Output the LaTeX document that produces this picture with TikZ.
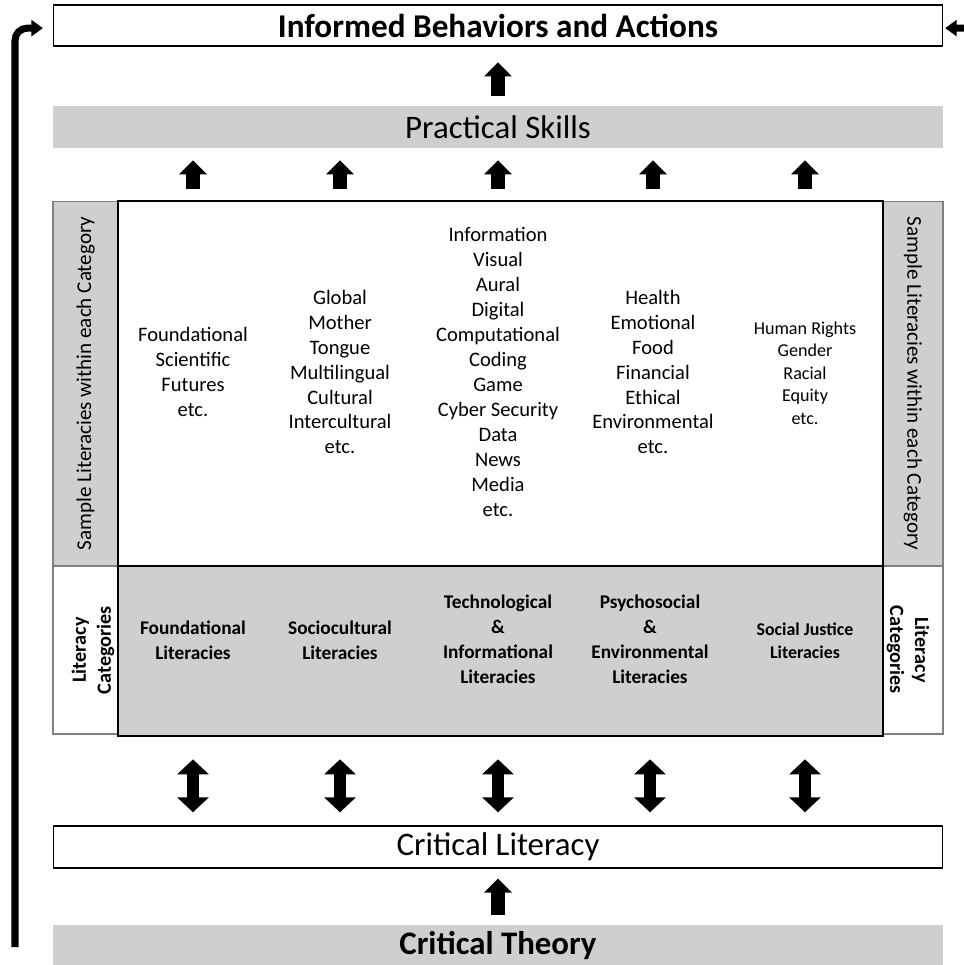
\documentclass[tikz,border=0pt]{standalone}
\usepackage{fontspec}
\setmainfont{Carlito}
\usetikzlibrary{arrows.meta}
\definecolor{boxgray}{RGB}{208,206,206}
\definecolor{edgegray}{RGB}{128,128,128}
\tikzset{
  band/.style={minimum width=17.8cm, minimum height=0.84cm, inner sep=0pt},
  sidecol/.style={draw=edgegray, line width=0.6pt, inner sep=0pt},
  mainbox/.style={draw=black, line width=1.6pt, minimum width=15.3cm, inner sep=0pt},
  sampletext/.style={align=center, font=\fontsize{11.7}{14.2}\selectfont},
  cattext/.style={align=center, font=\bfseries\fontsize{11}{14.2}\selectfont},
  upblock/.style={-{Triangle[width=15.3pt, length=8pt]}, line width=8.3pt},
  twoblock/.style={{Triangle[width=17.5pt, length=8.5pt]}-{Triangle[width=17.5pt, length=8.5pt]}, line width=7.2pt},
  loopline/.style={-{Triangle[width=9pt, length=6.5pt]}, line width=4pt}
}
\begin{document}
\begin{tikzpicture}[x=0.02cm, y=-0.02cm]
  \useasboundingbox (0,0) rectangle (964,965);

  % Top and bottom bands
  \node[band, draw=black, line width=0.6pt, minimum height=0.82cm] (inf) at (498,25.5)
    {\bfseries\fontsize{18.9}{21}\selectfont Informed Behaviors and Actions};
  \node[band, fill=boxgray] (skills) at (498,127)
    {\fontsize{18.7}{21}\selectfont Practical Skills};
  \node[band, draw=black, line width=0.6pt] (critlit) at (498,847)
    {\fontsize{18.7}{21}\selectfont Critical Literacy};
  \node[band, fill=boxgray] (theory) at (498,946)
    {\bfseries\fontsize{18.7}{21}\selectfont Critical Theory};

  % Side columns
  \node[sidecol, fill=boxgray, minimum width=1.3cm, minimum height=7.3cm] (leftsamp) at (85.5,383.5) {};
  \node[sidecol, minimum width=1.3cm, minimum height=3.36cm] (leftcat) at (85.5,650) {};
  \node[sidecol, fill=boxgray, minimum width=1.2cm, minimum height=7.3cm] (rightsamp) at (913,383.5) {};
  \node[sidecol, minimum width=1.2cm, minimum height=3.36cm] (rightcat) at (913,650) {};

  \node[rotate=90, font=\fontsize{12}{14}\selectfont] at (leftsamp) {Sample Literacies within each Category};
  \node[rotate=-90, font=\fontsize{12}{14}\selectfont] at (rightsamp) {Sample Literacies within each Category};
  \node[rotate=90, cattext, font=\bfseries\fontsize{11.5}{14.2}\selectfont] at ([xshift=0.15cm]leftcat.center) {Literacy\\Categories};
  \node[rotate=-90, cattext, font=\bfseries\fontsize{11.5}{14.2}\selectfont] at ([xshift=-0.1cm]rightcat.center) {Literacy\\Categories};

  % Main boxes
  \node[mainbox, minimum height=7.3cm] (samples) at (500.5,383.5) {};
  \node[mainbox, fill=boxgray, minimum height=3.4cm] (cats) at (500.5,651) {};

  % Sample literacies
  \node[sampletext] (sampA) at (193,372) {Foundational\\Scientific\\Futures\\etc.};
  \node[sampletext] (sampB) at (340,372) {Global\\Mother\\Tongue\\Multilingual\\Cultural\\Intercultural\\etc.};
  \node[sampletext] (sampC) at (498,372) {Information\\Visual\\Aural\\Digital\\Computational\\Coding\\Game\\Cyber Security\\Data\\News\\Media\\etc.};
  \node[sampletext] (sampD) at (653,372) {Health\\Emotional\\Food\\Financial\\Ethical\\Environmental\\etc.};
  \node[sampletext, font=\fontsize{10.3}{12.8}\selectfont] (sampE) at (805,373) {Human Rights\\Gender\\Racial\\Equity\\etc.};

  % Literacy categories
  \node[cattext] (catA) at (193,640) {Foundational\\Literacies};
  \node[cattext] (catB) at (340,640) {Sociocultural\\Literacies};
  \node[cattext] (catC) at (498,639) {Technological\\\&\\Informational\\Literacies};
  \node[cattext] (catD) at (650,639) {Psychosocial\\\&\\Environmental\\Literacies};
  \node[cattext, font=\bfseries\fontsize{10.2}{13}\selectfont] (catE) at (805,641) {Social Justice\\Literacies};

  % Block arrows
  \draw[upblock, shorten <=5.7pt, shorten >=9pt] (skills.north) -- (inf.south);
  \foreach \c in {sampA,sampB,sampC,sampD,sampE}
    \draw[upblock, shorten <=6.2pt, shorten >=6.8pt] (samples.north -| \c) -- (skills.south -| \c);
  \foreach \c in {catA,catB,catC,catD,catE}
    \draw[twoblock, shorten <=12.5pt, shorten >=7.5pt] (cats.south -| \c) -- (critlit.north -| \c);
  \draw[upblock, shorten <=5.7pt, shorten >=5.7pt] (theory.north) -- (critlit.south);

  % Feedback loop
  \coordinate (loopstart) at (15,947);
  \coordinate (loopin) at (990,28);
  \draw[loopline, rounded corners=7pt, shorten >=5.5pt] (loopstart) |- ([yshift=-1.5pt]inf.west);
  \draw[loopline, shorten >=1pt] (loopin) -- ([yshift=-1.5pt]inf.east);

\end{tikzpicture}
\end{document}
